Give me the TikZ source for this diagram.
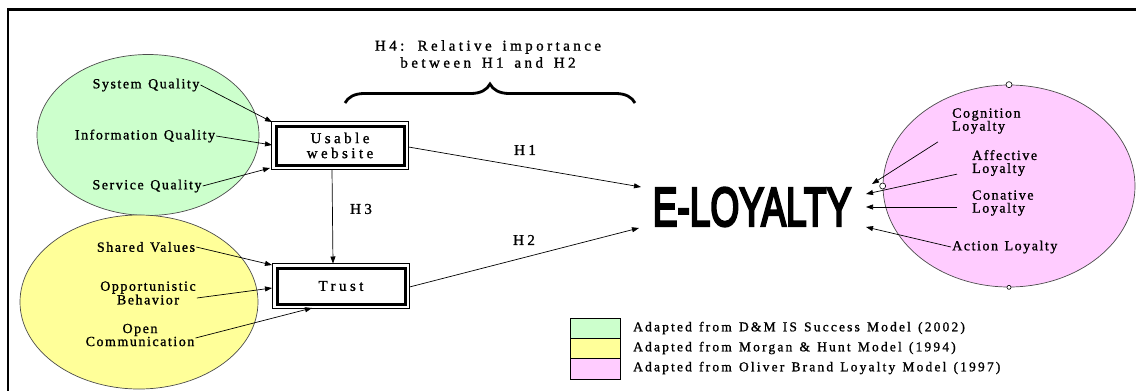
\documentclass[tikz,border=0pt]{standalone}
\usepackage{fontspec}
\usepackage{graphicx}
\setmainfont{Liberation Serif}
\newfontfamily\elfont{Liberation Sans}[FakeBold=5]
\newfontfamily\lblfont{Liberation Serif}[LetterSpace=11,WordSpace=1.3,FakeBold=1.2]
\newfontfamily\hfont{Liberation Serif}[LetterSpace=23,WordSpace=1.5,FakeBold=1.2]
\newfontfamily\legfont{Liberation Serif}[LetterSpace=16,WordSpace=1.3,FakeBold=1.2]
\usetikzlibrary{arrows.meta,decorations.pathreplacing,shapes.geometric}
\definecolor{dmgreen}{HTML}{CCFFCC}
\definecolor{mhyellow}{HTML}{FFFF99}
\definecolor{olpink}{HTML}{FFCCFF}
\tikzset{
  lbl/.style={font=\lblfont\fontsize{14}{11.5}\selectfont, align=center, inner sep=1pt},
  plbl/.style={font=\lblfont\fontsize{14}{13}\selectfont, align=left, inner sep=1pt, anchor=west},
  hlbl/.style={font=\hfont\fontsize{15}{15}\selectfont, align=center, inner sep=1pt},
  leglbl/.style={font=\legfont\fontsize{13.5}{13}\selectfont, anchor=west, inner sep=0pt},
  cbox/.style={draw=black, line width=3pt, fill=white, minimum width=128pt, outer sep=0pt,
    font=\hfont\fontsize{15}{15}\selectfont, align=center},
  blob/.style={ellipse, draw=black!70, line width=0.7pt},
  arr/.style={line width=0.7pt, -{Triangle[length=7pt,width=5pt]}},
  handle/.style={circle, draw=black, fill=white, line width=0.6pt, inner sep=0pt, minimum size=6pt},
  legbox/.style={draw=black, line width=0.7pt}
}
\begin{document}
\begin{tikzpicture}[x=1pt,y=-1pt]
\useasboundingbox (0,0) rectangle (1136,391);
% frame
\draw[line width=2.5pt] (8,391) coordinate (fl) -- (8,9.5) coordinate (ftl) -- (1136,9.5) coordinate (ftr);

% groups
\node[blob, fill=dmgreen, minimum width=222pt, minimum height=161pt] (green) at (148,135) {};
\node[blob, fill=mhyellow, minimum width=238pt, minimum height=174pt] (yellow) at (139,302) {};
\node[blob, fill=olpink, minimum width=252pt, minimum height=202pt] (pink) at (1009,186) {};
\node[handle] (hTop) at (pink.north) {};
\node[handle] (hLeft) at (pink.west) {};
\node[handle, minimum size=4pt] (hBot) at (pink.south) {};

% green labels
\node[lbl] (sq) at (146,85) {System Quality};
\node[lbl] (iq) at (145,136) {Information Quality};
\node[lbl] (svq) at (147,186) {Service Quality};
% yellow labels
\node[lbl] (sv) at (146,247) {Shared Values};
\node[lbl] (ob) at (148,293) {Opportunistic\\Behavior};
\node[lbl, font=\lblfont\fontsize{14}{13}\selectfont] (oc) at (140,335) {Open\\Communication};
% pink labels
\node[plbl] (cl) at (951,121) {Cognition\\Loyalty};
\node[plbl] (afl) at (971,163) {Affective\\Loyalty};
\node[plbl] (col) at (971,203) {Conative\\Loyalty};
\node[plbl] (acl) at (951,247) {Action Loyalty};

% boxes
\node[cbox, minimum height=39pt] (usable) at (340,145.5) {Usable\\website};
\node[cbox, minimum height=36pt] (trust) at (341,286) {Trust};
\draw[line width=0.7pt] ([shift={(-4.5,4.5)}]usable.south west) rectangle ([shift={(4.5,-4.5)}]usable.north east);
\draw[line width=0.7pt] ([shift={(-4.5,4.5)}]trust.south west) rectangle ([shift={(4.5,-4.5)}]trust.north east);

% E-LOYALTY
\node[inner sep=0pt] (el) at (752,207) {\scalebox{0.7}[1.03]{\elfont\fontsize{53}{53}\selectfont E-LOYALTY}};

% H4 brace
\node[hlbl, font=\hfont\fontsize{15}{17}\selectfont] (h4) at (488,54) {H4: Relative importance\\between H1 and H2};
\coordinate (bl) at (345,103);
\coordinate (br) at (635,103);
\draw[line width=2.8pt, decorate, decoration={brace, amplitude=19pt}] (bl) -- (br);

% target points
\coordinate (u1) at (272,122);
\coordinate (u2) at (272,145);
\coordinate (u3) at (270,168);
\coordinate (t1) at (272,265);
\coordinate (t2) at (272,288);
\coordinate (t3) at (312,308);
\coordinate (e1) at (641,187);
\coordinate (e2) at (639,228);
\coordinate (p1) at (872,184);
\coordinate (p2) at (866,194);
\coordinate (p3) at (866,207);
\coordinate (p4) at (866,227);

% input arrows
\draw[arr] (sq.east) -- (u1);
\draw[arr] (iq.east) -- (u2);
\draw[arr] (svq.east) -- (u3);
\draw[arr] (sv.east) -- (t1);
\draw[arr] ([yshift=-5pt]ob.east) -- (t2);
\draw[arr] ([yshift=-3pt]oc.east) -- (t3);

% hypotheses
\draw[arr] ([shift={(4.5,1.5)}]usable.east) -- (e1);
\node[hlbl] (h1) at (525,150) {H1};
\draw[arr] ([shift={(4.5,1)}]trust.east) -- (e2);
\node[hlbl] (h2) at (524,240) {H2};
\draw[arr] ([shift={(-8,4.5)}]usable.south) -- ([shift={(-8,-4.5)}]trust.north);
\node[hlbl] (h3) at (361,209) {H3};

% loyalty arrows
\draw[arr] ([shift={(-13,7)}]cl.south west) -- (p1);
\draw[arr] ([shift={(-14,-3)}]afl.south west) -- (p2);
\draw[arr] ([shift={(-14,4)}]col.west) -- (p3);
\draw[arr] (acl.west) -- (p4);

% legend
\draw[legbox, fill=dmgreen] (570,318) rectangle (620,338);
\draw[legbox, fill=mhyellow] (570,338) rectangle (620,358);
\draw[legbox, fill=olpink] (570,358) rectangle (620,379);
\node[leglbl] (lg1) at (633,328) {Adapted from D\&M IS Success Model (2002)};
\node[leglbl] (lg2) at (633,348) {Adapted from Morgan \& Hunt Model (1994)};
\node[leglbl] (lg3) at (633,368) {Adapted from Oliver Brand Loyalty Model (1997)};
\end{tikzpicture}
\end{document}
